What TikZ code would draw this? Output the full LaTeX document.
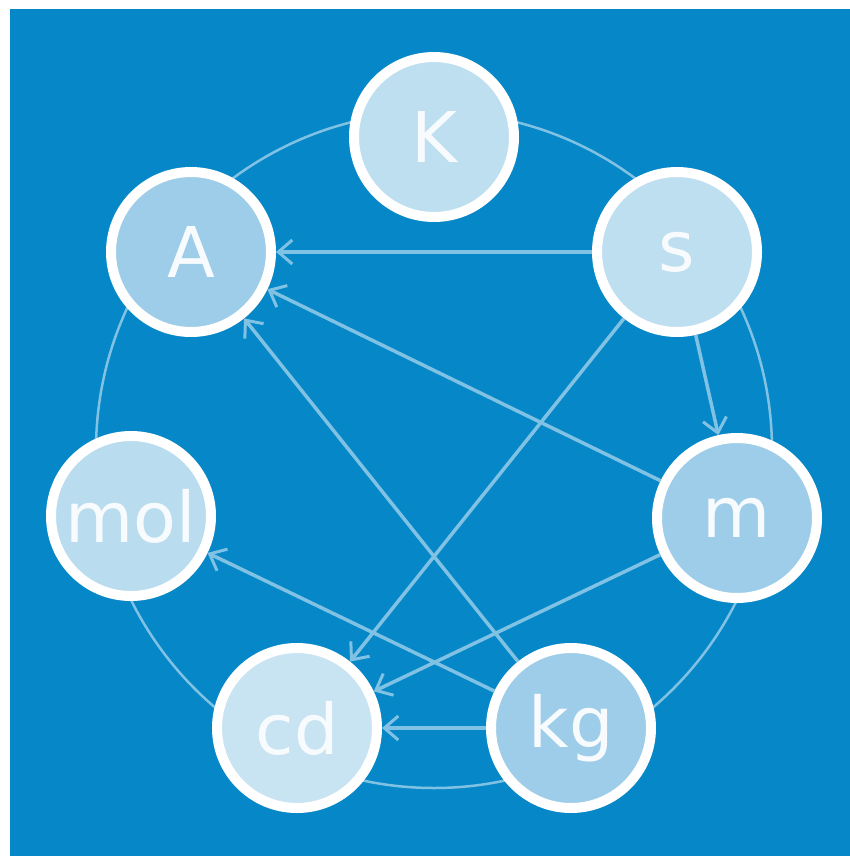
\documentclass[tikz,border=0pt]{standalone}
\usepackage{fontspec}
\setmainfont{DejaVu Sans}
\usetikzlibrary{arrows.meta}
\definecolor{bgblue}{RGB}{6,135,200}
\definecolor{edgec}{RGB}{128,194,228}
\definecolor{fillA}{RGB}{157,205,232}
\definecolor{fillB}{RGB}{190,223,240}
\definecolor{fillC}{RGB}{200,228,243}
\definecolor{fillD}{RGB}{185,220,239}
\definecolor{txt}{RGB}{248,251,253}
\tikzset{
  unit/.style={circle, draw=white, line width=10pt, minimum size=160pt, inner sep=0pt,
    text=txt, font=\fontsize{70}{84}\selectfont},
  link/.style={draw=edgec, line width=3.5pt,
    -{Straight Barb[length=14pt,width=24pt,line width=3pt]}},
  ring/.style={draw=edgec, line width=2.5pt}
}
\begin{document}
\begin{tikzpicture}[x=1pt,y=-1pt]
\useasboundingbox (0,0) rectangle (850,856);
\fill[white] (0,0) rectangle (850,856);
\fill[bgblue] (10,9) rectangle (850,856);
\coordinate (ctr) at (434,450);
\draw[ring] (ctr) circle (338pt);
\node[unit, fill=fillB] (K) at (434,137) {K};
\node[unit, fill=fillA] (A) at (191,252) {A};
\node[unit, fill=fillB] (s) at (677,252) {s};
\node[unit, fill=fillD] (mol) at (131,516) {mol};
\node[unit, fill=fillA] (m) at (737,518) {m};
\node[unit, fill=fillC] (cd) at (297,728) {cd};
\node[unit, fill=fillA] (kg) at (571,728) {kg};
\draw[link] (s) -- (A);
\draw[link] (m) -- (A);
\draw[link] (kg) -- (A);
\draw[link] (s) -- (cd);
\draw[link] (m) -- (cd);
\draw[link] (kg) -- (cd);
\draw[link] (kg) -- (mol);
\draw[link] (s) -- (m);
\end{tikzpicture}
\end{document}
